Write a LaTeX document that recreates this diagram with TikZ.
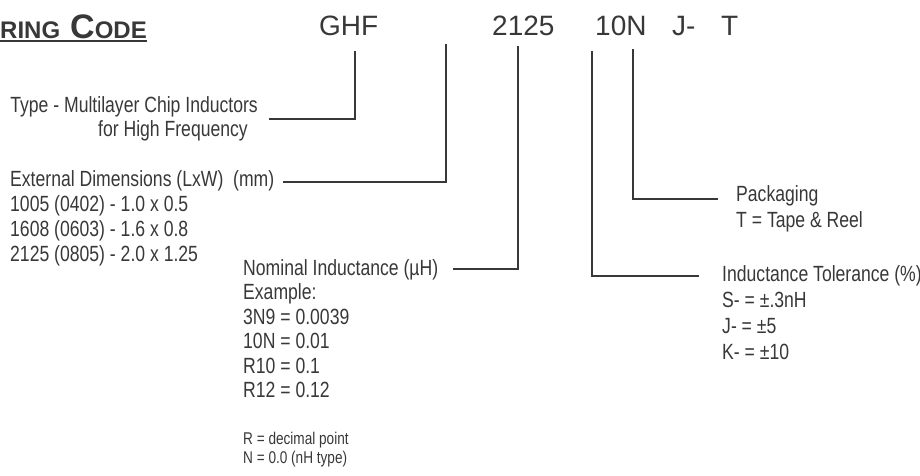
\documentclass[tikz,border=0pt]{standalone}
\usepackage{fontspec}
\setmainfont{Liberation Sans}
\newfontfamily\narrowfont[FakeStretch=0.8]{Liberation Sans}
\usetikzlibrary{calc}
\definecolor{ink}{gray}{0.22}
\def\codenode{\node[anchor=base west,inner sep=0pt,text=ink,font=\fontsize{28}{34}\selectfont]}
% multi-line text: placed by the baseline of its last line
\def\txtnode{\node[anchor=base west,inner sep=0pt,align=left,text=ink]}

\begin{document}
\begin{tikzpicture}[x=1pt,y=-1pt,conn/.style={draw=ink,line width=1.8pt}]
\useasboundingbox (0,0) rectangle (920,475);
\node[anchor=base west,inner sep=0pt,text=ink,font=\bfseries\fontsize{24}{24}\selectfont] (title) at (0,38) {RING};
\node[anchor=base east,inner sep=0pt,text=ink,font=\bfseries] (title2) at (147,38)
  {{\fontsize{34}{34}\selectfont C}{\fontsize{24}{24}\selectfont ODE}};
\coordinate (ul) at (0,41);
\draw[ink,line width=1.6pt] (ul) -- (ul -| title2.east);
\codenode (ghf) at (319,35) {GHF};
\codenode (size) at (492,35) {2125};
\codenode (ind) at (595,35) {10N};
\codenode (tol) at (672,35) {J-};
\codenode (pack) at (721,35) {T};
\node[anchor=base east,inner sep=0pt,text=ink,font=\narrowfont\fontsize{22}{25}\selectfont] (type) at (258,112) {Type - Multilayer Chip Inductors};
\node[anchor=base east,inner sep=0pt,text=ink,font=\narrowfont\fontsize{22}{25}\selectfont] (type2) at (248,136) {for High Frequency};
\txtnode[font=\narrowfont\fontsize{22}{25}\selectfont] (dims) at (10,261)
  {External Dimensions (LxW)\ \ (mm)\\1005 (0402) - 1.0 x 0.5\\1608 (0603) - 1.6 x 0.8\\2125 (0805) - 2.0 x 1.25};
\txtnode[font=\narrowfont\fontsize{22}{24.5}\selectfont] (nom) at (243,397.5)
  {Nominal Inductance (µH)\\Example:\\3N9 = 0.0039\\10N = 0.01\\R10 = 0.1\\R12 = 0.12};
\txtnode[font=\narrowfont\fontsize{17}{19}\selectfont] (notes) at (243,463)
  {R = decimal point\\N = 0.0 (nH type)};
\txtnode[font=\narrowfont\fontsize{22}{26}\selectfont] (packg) at (736,227)
  {Packaging\\T = Tape \& Reel};
\txtnode[font=\narrowfont\fontsize{22}{26}\selectfont] (toler) at (722,359)
  {Inductance Tolerance (\%)\\S- = ±.3nH\\J- = ±5\\K- = ±10};
% leader lines
\coordinate (a1) at (355,51);  \coordinate (a2) at (269,119);
\coordinate (b1) at (446,44);  \coordinate (b2) at (283,182);
\coordinate (c1) at (518,46);  \coordinate (c2) at (453,269);
\coordinate (d1) at (592,51);  \coordinate (d2) at (699,276);
\coordinate (e1) at (633,49);  \coordinate (e2) at (718,199);
\draw[conn] (a1) |- (a2);
\draw[conn] (b1) |- (b2);
\draw[conn] (c1) |- (c2);
\draw[conn] (d1) |- (d2);
\draw[conn] (e1) |- (e2);
\end{tikzpicture}
\end{document}
